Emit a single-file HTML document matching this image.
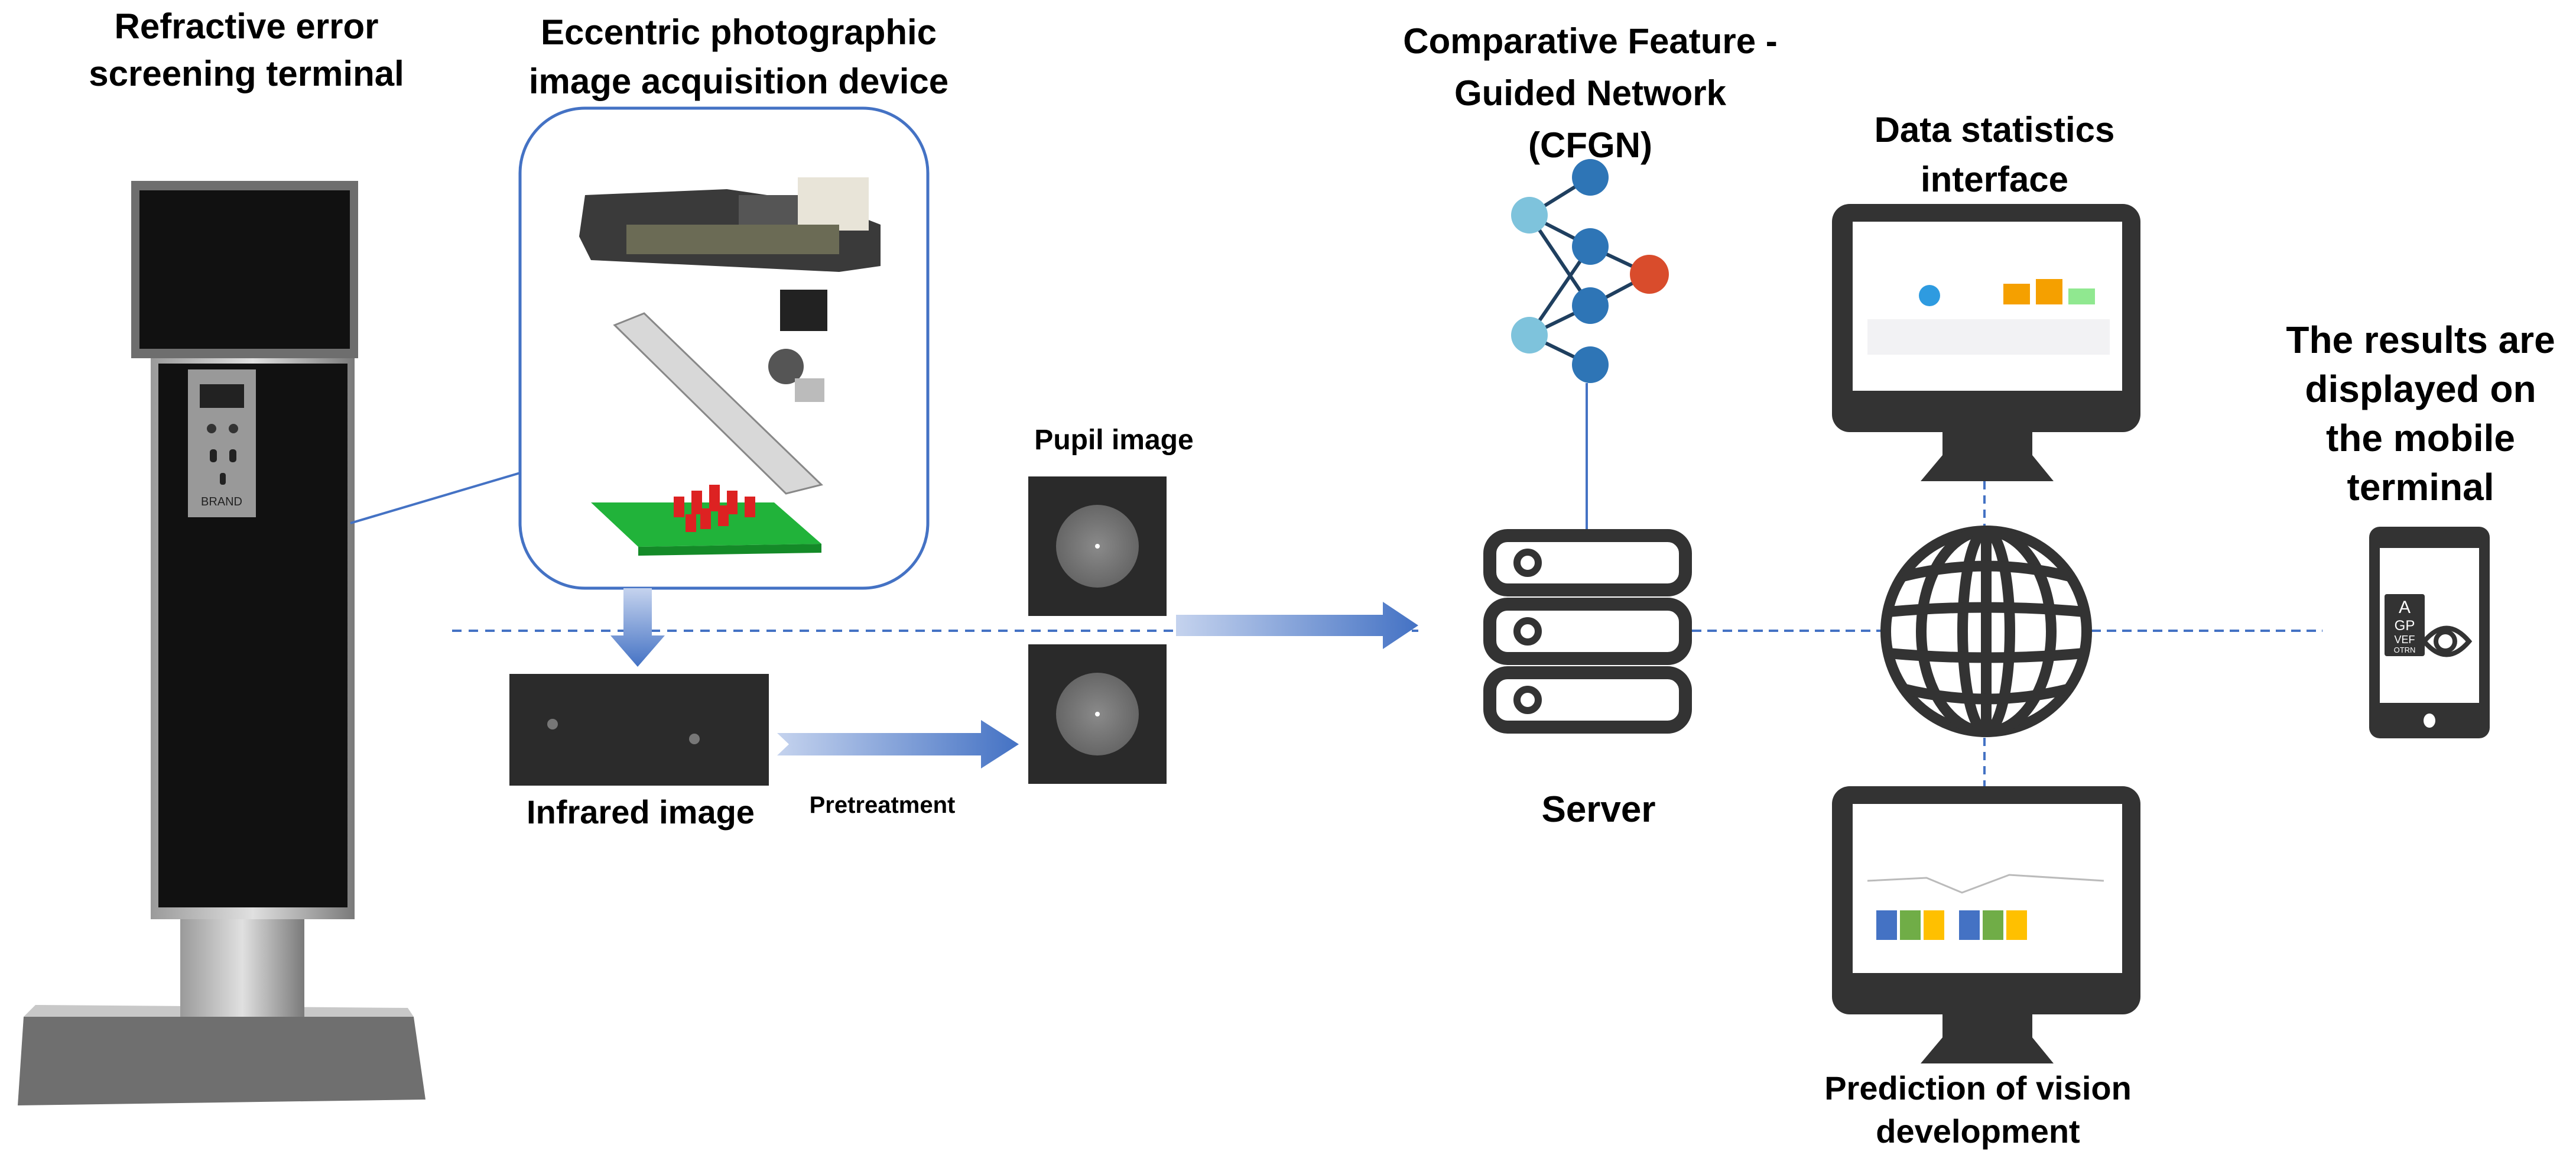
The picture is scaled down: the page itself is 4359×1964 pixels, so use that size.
<!DOCTYPE html>
<html><head><meta charset="utf-8"><style>
html,body{margin:0;padding:0;background:#fff;}
svg{display:block;}
text{font-family:"Liberation Sans",Arial,sans-serif;font-weight:bold;fill:#000;}
</style></head><body>
<svg width="4359" height="1964" viewBox="0 0 4359 1964" xmlns="http://www.w3.org/2000/svg">
<defs>
<linearGradient id="steel" x1="0" x2="1"><stop offset="0" stop-color="#9a9a9a"/><stop offset="0.5" stop-color="#e0e0e0"/><stop offset="1" stop-color="#7a7a7a"/></linearGradient>
<linearGradient id="arr" x1="0" x2="1"><stop offset="0" stop-color="#c5d3ee"/><stop offset="1" stop-color="#4472c4"/></linearGradient>
<linearGradient id="arrv" x1="0" y1="0" x2="0" y2="1"><stop offset="0" stop-color="#c5d3ee"/><stop offset="1" stop-color="#4472c4"/></linearGradient>
<radialGradient id="pup"><stop offset="0" stop-color="#8a8a8a"/><stop offset="1" stop-color="#666"/></radialGradient>
<g id="mon">
<rect x="0" y="0" width="522" height="386" rx="30" fill="#333"/>
<rect x="35" y="30" width="456" height="286" fill="#fff"/>
<rect x="187" y="386" width="152" height="45" fill="#333"/>
<polygon points="187,425 339,425 375,469 150,469" fill="#333"/>
</g>
</defs>

<text x="417" y="65" font-size="60" text-anchor="middle">Refractive error</text>
<text x="417" y="145" font-size="60" text-anchor="middle">screening terminal</text>
<text x="1250" y="75" font-size="60" text-anchor="middle">Eccentric photographic</text>
<text x="1250" y="158" font-size="60" text-anchor="middle">image acquisition device</text>
<text x="2691" y="90" font-size="60" text-anchor="middle">Comparative Feature -</text>
<text x="2691" y="178" font-size="60" text-anchor="middle">Guided Network</text>
<text x="2691" y="266" font-size="60" text-anchor="middle">(CFGN)</text>
<text x="3375" y="240" font-size="60" text-anchor="middle">Data statistics</text>
<text x="3375" y="324" font-size="60" text-anchor="middle">interface</text>
<text x="4096" y="597" font-size="64" text-anchor="middle">The results are</text>
<text x="4096" y="680" font-size="64" text-anchor="middle">displayed on</text>
<text x="4096" y="763" font-size="64" text-anchor="middle">the mobile</text>
<text x="4096" y="846" font-size="64" text-anchor="middle">terminal</text>
<text x="3347" y="1860" font-size="56" text-anchor="middle">Prediction of vision</text>
<text x="3347" y="1933" font-size="56" text-anchor="middle">development</text>
<text x="1885" y="760" font-size="48" text-anchor="middle">Pupil image</text>
<text x="1084" y="1393" font-size="56" text-anchor="middle">Infrared image</text>
<text x="1493" y="1375" font-size="40" text-anchor="middle">Pretreatment</text>
<text x="2705" y="1390" font-size="62" text-anchor="middle">Server</text>

<!-- Kiosk -->
<polygon points="40,1720 700,1720 720,1860 30,1870" fill="#6f6f6f"/>
<polygon points="40,1720 700,1720 690,1705 60,1700" fill="#c8c8c8"/>
<rect x="305" y="1520" width="210" height="200" fill="url(#steel)"/>
<rect x="255" y="600" width="345" height="955" fill="url(#steel)"/>
<rect x="268" y="615" width="320" height="920" fill="#111"/>
<rect x="318" y="625" width="115" height="250" fill="#999"/>
<rect x="338" y="650" width="75" height="40" fill="#222"/>
<circle cx="358" cy="725" r="8" fill="#333"/><circle cx="395" cy="725" r="8" fill="#333"/>
<rect x="355" y="760" width="12" height="22" rx="5" fill="#222"/><rect x="388" y="760" width="12" height="22" rx="5" fill="#222"/>
<rect x="372" y="800" width="10" height="20" rx="4" fill="#222"/>
<text x="375" y="855" font-size="20" text-anchor="middle" style="font-weight:normal;fill:#222">BRAND</text>
<rect x="222" y="306" width="384" height="300" fill="#6e6e6e"/>
<rect x="236" y="322" width="356" height="268" fill="#111"/>
<line x1="593" y1="885" x2="880" y2="800" stroke="#4472c4" stroke-width="4"/>

<rect x="880" y="183" width="690" height="812" rx="110" fill="#fff" stroke="#4472c4" stroke-width="5"/>
<polygon points="990,330 1230,320 1400,345 1490,380 1490,450 1420,460 1000,440 980,400" fill="#3a3a3a"/>
<rect x="1250" y="330" width="110" height="70" fill="#555"/>
<rect x="1350" y="300" width="120" height="90" fill="#e8e4d8"/>
<rect x="1060" y="380" width="360" height="50" fill="#6b6b55"/>
<polygon points="1040,550 1090,530 1390,820 1330,835" fill="#d8d8d8" stroke="#888" stroke-width="3"/>
<rect x="1320" y="490" width="80" height="70" fill="#222"/>
<circle cx="1330" cy="620" r="30" fill="#555"/>
<rect x="1345" y="640" width="50" height="40" fill="#bbb"/>
<polygon points="1000,850 1310,850 1390,920 1080,925" fill="#21b33a"/>
<polygon points="1080,925 1390,920 1390,935 1080,940" fill="#148a28"/>
<g fill="#d22">
<rect x="1140" y="840" width="18" height="35"/><rect x="1170" y="830" width="18" height="40"/><rect x="1200" y="820" width="18" height="45"/><rect x="1230" y="830" width="18" height="40"/><rect x="1260" y="840" width="18" height="35"/><rect x="1185" y="860" width="18" height="35"/><rect x="1215" y="855" width="18" height="35"/><rect x="1160" y="870" width="18" height="30"/>
</g>

<line x1="765" y1="1067" x2="2400" y2="1067" stroke="#4472c4" stroke-width="4" stroke-dasharray="16,12"/>
<line x1="2863" y1="1067" x2="3183" y2="1067" stroke="#4472c4" stroke-width="4" stroke-dasharray="16,10"/>
<line x1="3539" y1="1067" x2="3930" y2="1067" stroke="#4472c4" stroke-width="4" stroke-dasharray="16,10"/>
<line x1="3358" y1="814" x2="3358" y2="890" stroke="#4472c4" stroke-width="4" stroke-dasharray="14,10"/>
<line x1="3358" y1="1248" x2="3358" y2="1330" stroke="#4472c4" stroke-width="4" stroke-dasharray="14,10"/>

<polygon points="1055,995 1103,995 1103,1075 1125,1075 1079,1128 1033,1075 1055,1075" fill="url(#arrv)"/>
<polygon points="1315,1240 1660,1240 1660,1218 1724,1259 1660,1300 1660,1278 1315,1278 1335,1259" fill="url(#arr)"/>
<polygon points="1990,1040 2340,1040 2340,1018 2400,1058 2340,1098 2340,1076 1990,1076" fill="url(#arr)"/>

<rect x="862" y="1140" width="439" height="189" fill="#2b2b2b"/>
<circle cx="935" cy="1225" r="9" fill="#777"/><circle cx="1175" cy="1250" r="9" fill="#777"/>
<rect x="1740" y="806" width="234" height="236" fill="#2a2a2a"/>
<circle cx="1857" cy="924" r="70" fill="url(#pup)"/><circle cx="1857" cy="924" r="4" fill="#fff"/>
<rect x="1740" y="1090" width="234" height="236" fill="#2a2a2a"/>
<circle cx="1857" cy="1208" r="70" fill="url(#pup)"/><circle cx="1857" cy="1208" r="4" fill="#fff"/>

<g stroke="#1f3f5f" stroke-width="6">
<line x1="2588" y1="364" x2="2691" y2="300"/><line x1="2588" y1="364" x2="2691" y2="417"/><line x1="2588" y1="364" x2="2691" y2="517"/>
<line x1="2588" y1="567" x2="2691" y2="417"/><line x1="2588" y1="567" x2="2691" y2="517"/><line x1="2588" y1="567" x2="2691" y2="617"/>
<line x1="2691" y1="417" x2="2791" y2="464"/><line x1="2691" y1="517" x2="2791" y2="464"/>
</g>
<g fill="#2e75b6"><circle cx="2691" cy="300" r="31"/><circle cx="2691" cy="417" r="31"/><circle cx="2691" cy="517" r="31"/><circle cx="2691" cy="617" r="31"/></g>
<circle cx="2588" cy="364" r="31" fill="#7ec3dc"/><circle cx="2588" cy="567" r="31" fill="#7ec3dc"/>
<circle cx="2791" cy="464" r="33" fill="#d94c2c"/>
<line x1="2685" y1="648" x2="2685" y2="895" stroke="#4472c4" stroke-width="4"/>

<g fill="#fff" stroke="#333" stroke-width="22">
<rect x="2521" y="906" width="331" height="92" rx="30"/>
<rect x="2521" y="1022" width="331" height="92" rx="30"/>
<rect x="2521" y="1138" width="331" height="92" rx="30"/>
</g>
<g fill="none" stroke="#333" stroke-width="12"><circle cx="2585" cy="952" r="18"/><circle cx="2585" cy="1068" r="18"/><circle cx="2585" cy="1184" r="18"/></g>

<use href="#mon" x="3100" y="345"/>
<use href="#mon" x="3100" y="1330"/>
<rect x="3390" y="480" width="45" height="35" fill="#f5a000"/><rect x="3445" y="472" width="45" height="43" fill="#f5a000"/><rect x="3500" y="488" width="45" height="27" fill="#90e890"/>
<circle cx="3265" cy="500" r="18" fill="#2e9be0"/>
<rect x="3160" y="540" width="410" height="60" fill="#f2f2f4"/>
<rect x="3175" y="1540" width="35" height="50" fill="#4472c4"/><rect x="3215" y="1540" width="35" height="50" fill="#70ad47"/><rect x="3255" y="1540" width="35" height="50" fill="#ffc000"/>
<rect x="3315" y="1540" width="35" height="50" fill="#4472c4"/><rect x="3355" y="1540" width="35" height="50" fill="#70ad47"/><rect x="3395" y="1540" width="35" height="50" fill="#ffc000"/>
<polyline points="3160,1490 3260,1485 3320,1510 3400,1480 3560,1490" fill="none" stroke="#bbb" stroke-width="3"/>

<g fill="none" stroke="#333" stroke-width="18">
<ellipse cx="3361" cy="1068" rx="170" ry="170"/>
<ellipse cx="3361" cy="1068" rx="110" ry="170"/>
<ellipse cx="3361" cy="1068" rx="40" ry="170"/>
<line x1="3361" y1="898" x2="3361" y2="1238"/>
<path d="M3220,975 Q3361,940 3502,975"/>
<path d="M3195,1035 Q3361,1020 3527,1035"/>
<path d="M3195,1105 Q3361,1120 3527,1105"/>
<path d="M3220,1165 Q3361,1200 3502,1165"/>
</g>

<rect x="4009" y="891" width="204" height="358" rx="18" fill="#333"/>
<rect x="4027" y="927" width="168" height="262" fill="#fff"/>
<ellipse cx="4111" cy="1219" rx="10" ry="12" fill="#fff"/>
<rect x="4035" y="1005" width="68" height="105" rx="4" fill="#333"/>
<text x="4069" y="1037" font-size="30" text-anchor="middle" style="font-weight:normal;fill:#fff">A</text>
<text x="4069" y="1066" font-size="24" text-anchor="middle" style="font-weight:normal;fill:#fff">GP</text>
<text x="4069" y="1088" font-size="18" text-anchor="middle" style="font-weight:normal;fill:#fff">VEF</text>
<text x="4069" y="1104" font-size="13" text-anchor="middle" style="font-weight:normal;fill:#fff">OTRN</text>
<path d="M4102,1085 Q4140,1040 4178,1085 Q4140,1130 4102,1085Z" fill="#fff" stroke="#333" stroke-width="8"/>
<circle cx="4138" cy="1085" r="16" fill="none" stroke="#333" stroke-width="8"/>
</svg>
</body></html>
